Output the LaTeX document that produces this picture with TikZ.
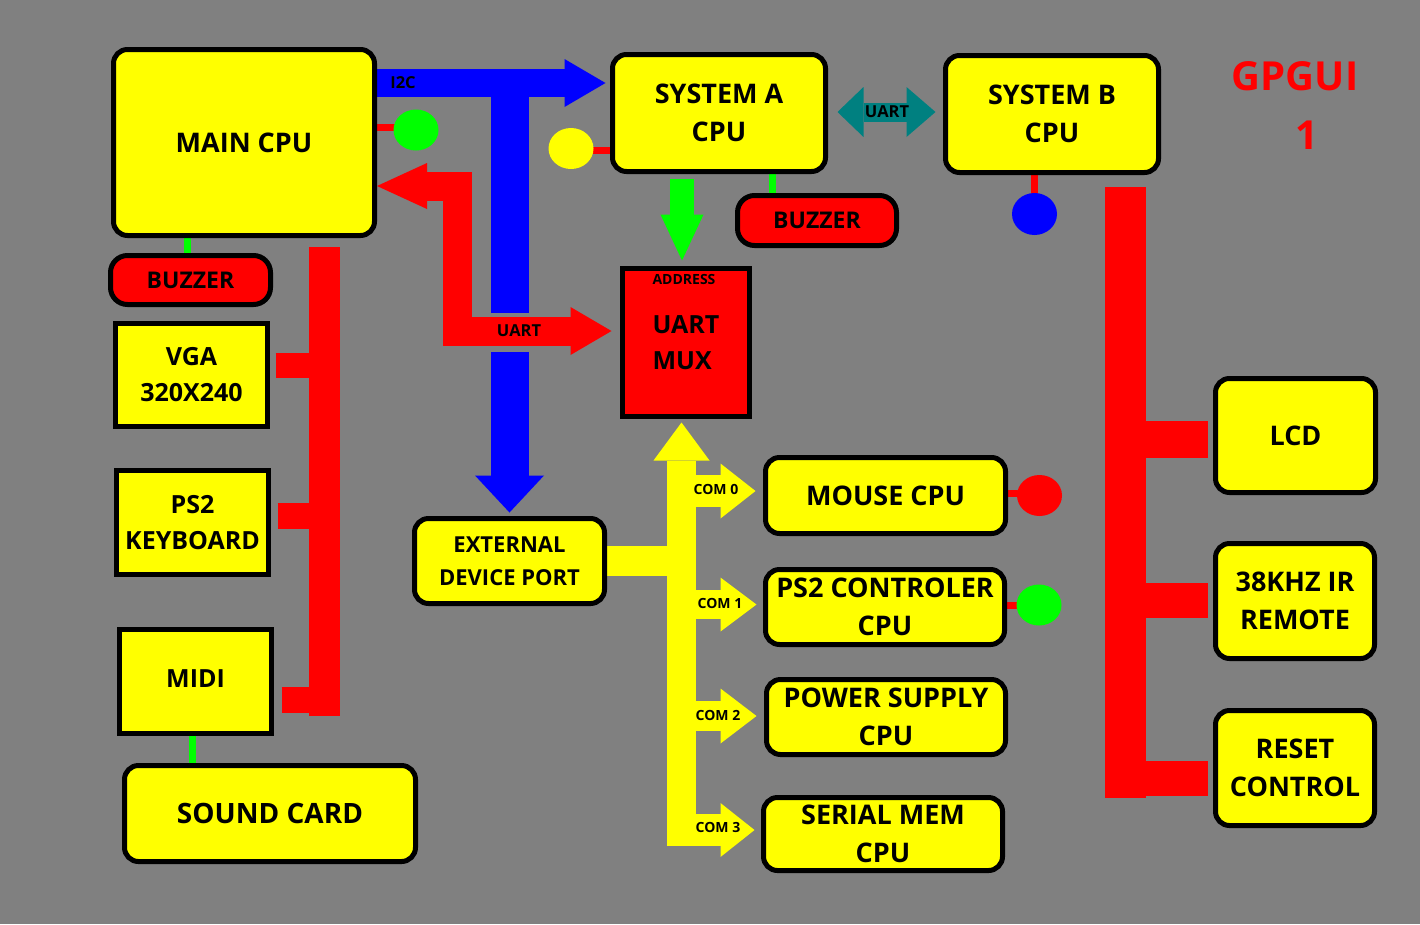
\documentclass[tikz,border=0pt]{standalone}
\usepackage{fontspec}
\setmainfont{Open Sans}
\usetikzlibrary{arrows.meta,shapes.geometric,calc}
\pgfdeclarelayer{back}
\pgfdeclarelayer{bg}
\pgfsetlayers{back,bg,main}
\definecolor{cgray}{HTML}{808080}
\definecolor{cyel}{HTML}{FFFF00}
\definecolor{cred}{HTML}{FF0000}
\definecolor{cblue}{HTML}{0000FF}
\definecolor{cgreen}{HTML}{00FF00}
\definecolor{cteal}{HTML}{008080}
\tikzset{
 ybox/.style={draw=black, line width=5pt, fill=cyel, rounded corners=14pt, inner sep=0pt, align=center, font=\fontsize{27}{38.5}\selectfont\bfseries},
 sbox/.style={ybox, sharp corners, font=\fontsize{25}{36}\selectfont\bfseries},
 rbox/.style={ybox, fill=cred, font=\fontsize{23}{30}\selectfont\bfseries, rounded corners=17pt},
 dot/.style={ellipse, draw=none, inner sep=0pt, minimum width=45pt, minimum height=41pt},
 stub/.style={line width=7pt, line cap=round},
 lbl/.style={font=\fontsize{16.5}{18}\selectfont\bfseries, inner sep=0pt},
 lbls/.style={font=\fontsize{14}{15}\selectfont\bfseries, inner sep=0pt},
 bus/.style={line cap=butt, line join=miter},
}
\begin{document}
\begin{tikzpicture}[x=1pt,y=-1pt]
\useasboundingbox (0,0) rectangle (1420,924);
\begin{pgfonlayer}{back}
\fill[cgray] (0,0) rectangle (1420,924);
\end{pgfonlayer}

% boxes
\node[ybox, minimum width=261pt, minimum height=186pt] (main) at (244,142.5) {MAIN CPU};
\node[ybox, minimum width=213pt, minimum height=117pt] (sysA) at (719,113) {SYSTEM A\\CPU};
\node[ybox, minimum width=213pt, minimum height=117pt] (sysB) at (1052,114) {SYSTEM B\\CPU};
\node[rbox, minimum width=159pt, minimum height=50pt] (buzA) at (817,220.5) {BUZZER};
\node[rbox, minimum width=160pt, minimum height=49pt] (buzM) at (190.5,280) {BUZZER};
\node[sbox, fill=cred, minimum width=127pt, minimum height=148pt, align=left] (mux) at (686,342.5) {UART\\MUX};
\node[sbox, minimum width=152pt, minimum height=103pt] (vga) at (191.5,375) {VGA\\320X240};
\node[sbox, minimum width=152pt, minimum height=104pt] (kbd) at (192.5,522.5) {PS2\\KEYBOARD};
\node[sbox, minimum width=152pt, minimum height=104pt] (midi) at (195.5,681.5) {\raisebox{5pt}{MIDI}};
\node[ybox, minimum width=291pt, minimum height=96pt, font=\fontsize{28}{38}\selectfont\bfseries] (sound) at (270,813.5) {SOUND CARD};
\node[ybox, minimum width=190pt, minimum height=85pt, font=\fontsize{22}{33}\selectfont\bfseries] (ext) at (509.5,561) {EXTERNAL\\DEVICE PORT};
\node[ybox, minimum width=240pt, minimum height=76pt] (mouse) at (885.5,495.5) {MOUSE CPU};
\node[ybox, minimum width=239pt, minimum height=75pt] (ps2c) at (885,607) {PS2 CONTROLER\\CPU};
\node[ybox, minimum width=239pt, minimum height=75pt] (psu) at (886,717) {POWER SUPPLY\\CPU};
\node[ybox, minimum width=239pt, minimum height=73pt] (smem) at (883,834) {SERIAL MEM\\CPU};
\node[ybox, minimum width=160pt, minimum height=114pt] (lcd) at (1295.5,435.5) {LCD};
\node[ybox, minimum width=159pt, minimum height=115pt] (ir) at (1295,601) {38KHZ IR\\REMOTE};
\node[ybox, minimum width=159pt, minimum height=115pt] (reset) at (1295,768) {RESET\\CONTROL};

% dots
\node[dot, fill=cgreen] (g1) at (416,130) {};
\node[dot, fill=cyel] (y1) at (571,148.5) {};
\node[dot, fill=cblue, minimum height=42pt] (b1) at (1034.5,214) {};
\node[dot, fill=cred] (r1) at (1039.5,495.5) {};
\node[dot, fill=cgreen] (g2) at (1039,605) {};

% title
\node[text=cred, font=\fontsize{40}{48}\selectfont\bfseries, inner sep=0pt] (title) at (1295,76) {GPGUI};
\node[text=cred, font=\fontsize{40}{48}\selectfont\bfseries, inner sep=0pt] (title1) at (1307,135) {1};

% helper coordinates
\coordinate (i2cT) at (508,83);
\coordinate (cutA) at (0,313);
\coordinate (cutB) at (0,352);
\coordinate (uartTop) at (457,186);
\coordinate (uartBot) at (457,331);
\coordinate (tealY) at (0,112);
\coordinate (gx) at ([xshift=-4pt]mux.north);
\coordinate (busBot) at (681.5,846);
\coordinate (c0) at (0,491);
\coordinate (c1) at (0,604.5);
\coordinate (c2) at (0,716);
\coordinate (c3) at (0,830);
\coordinate (lbTop) at (324.5,247);
\coordinate (lbBot) at (324.5,716);
\coordinate (lvga) at (0,365.5);
\coordinate (lkbd) at (0,516);
\coordinate (lmidi) at (0,700);
\coordinate (rbTop) at (1125.5,187);
\coordinate (rbBot) at (1125.5,798);
\coordinate (rlcd) at (0,439.5);
\coordinate (rir) at (0,600.5);
\coordinate (rreset) at (0,778.5);
\coordinate (s1) at (0,127);
\coordinate (s2) at (0,150);
\coordinate (s3) at (0,493);
\coordinate (gs1) at (187,0);
\coordinate (gs2) at (192,0);
\coordinate (gs3) at (772,0);

\begin{pgfonlayer}{bg}
% blue I2C
\draw[bus, cblue, line width=28pt, shorten >=4.5pt, -{Triangle[length=41pt,width=48pt,line width=0pt]}] (main.east |- i2cT) -- (sysA.west |- i2cT);
\draw[bus, cblue, line width=38pt] (ext.north |- i2cT) -- (ext.north |- cutA);
\draw[bus, cblue, line width=38pt, shorten >=3.5pt, -{Triangle[length=37pt,width=69pt,line width=0pt]}] (ext.north |- cutB) -- (ext.north);
% red UART
\draw[bus, cred, line width=29pt, shorten >=8.5pt, {Triangle[length=50pt,width=46pt,line width=0pt]}-{Triangle[length=41pt,width=48pt,line width=0pt]}] (main.east |- uartTop) -- (uartTop) -- (uartBot) -- (mux.west |- uartBot);
% green down
\draw[bus, cgreen, line width=24pt, shorten <=4.5pt, shorten >=5.5pt, -{Triangle[length=46pt,width=43pt,line width=0pt]}] (gx |- sysA.south) -- (gx);
% teal
\draw[bus, cteal, line width=19pt, shorten <=9.5pt, shorten >=7.5pt, {Triangle[length=26pt,width=50pt,line width=0pt]}-{Triangle[length=29pt,width=50pt,line width=0pt]}] (sysA.east |- tealY) -- (sysB.west |- tealY);
% yellow bus
\draw[bus, cyel, line width=29pt, shorten >=3.5pt, -{Triangle[length=38pt,width=56pt,line width=0pt]}] (busBot) -- (busBot |- mux.south);
\draw[bus, cyel, line width=32pt, shorten >=7.5pt, -{Triangle[length=35pt,width=55pt,line width=0pt]}] (busBot |- c0) -- (mouse.west |- c0);
\draw[bus, cyel, line width=29pt, shorten >=6.5pt, -{Triangle[length=36pt,width=54pt,line width=0pt]}] (busBot |- c1) -- (ps2c.west |- c1);
\draw[bus, cyel, line width=30pt, shorten >=7.5pt, -{Triangle[length=36pt,width=55pt,line width=0pt]}] (busBot |- c2) -- (psu.west |- c2);
\draw[bus, cyel, line width=32pt, shorten >=6.5pt, -{Triangle[length=34pt,width=54pt,line width=0pt]}] (busBot |- c3) -- (smem.west |- c3);
\draw[bus, cyel, line width=30pt] (ext.east) -- (busBot |- ext.east);
% left red bus
\draw[bus, cred, line width=31pt] (lbTop) -- (lbBot);
\draw[bus, cred, line width=25pt, shorten <=5.5pt] (vga.east |- lvga) -- (lbTop |- lvga);
\draw[bus, cred, line width=26pt, shorten <=6.5pt] (kbd.east |- lkbd) -- (lbTop |- lkbd);
\draw[bus, cred, line width=26pt, shorten <=7.5pt] (midi.east |- lmidi) -- (lbTop |- lmidi);
% right red bus
\draw[bus, cred, line width=41pt] (rbTop) -- (rbBot);
\draw[bus, cred, line width=37pt, shorten >=5.5pt] (rbTop |- rlcd) -- (lcd.west |- rlcd);
\draw[bus, cred, line width=35pt, shorten >=5.5pt] (rbTop |- rir) -- (ir.west |- rir);
\draw[bus, cred, line width=35pt, shorten >=5.5pt] (rbTop |- rreset) -- (reset.west |- rreset);
% stubs
\draw[stub, cred] (main.east |- s1) -- (g1.west |- s1);
\draw[stub, cred] (y1.east |- s2) -- (sysA.west |- s2);
\draw[stub, cred] (b1.north) -- (b1.north |- sysB.south);
\draw[stub, cred] (mouse.east |- s3) -- (r1.west |- s3);
\draw[stub, cred] (ps2c.east |- g2) -- (g2.west);
\draw[stub, cgreen] (gs1 |- main.south) -- (gs1 |- buzM.north);
\draw[stub, cgreen] (gs2 |- midi.south) -- (gs2 |- sound.north);
\draw[stub, cgreen] (gs3 |- sysA.south) -- (gs3 |- buzA.north);
\end{pgfonlayer}

% connector labels
\node[lbl] (li2c) at (403,83) {I2C};
\node[lbl] (luartR) at (519,331) {UART};
\node[lbl] (luartT) at (887,112) {UART};
\node[lbls] (laddr) at (684,279) {ADDRESS};
\node[lbls] (lc0) at (716,489) {COM 0};
\node[lbls] (lc1) at (720,603) {COM 1};
\node[lbls] (lc2) at (718,715) {COM 2};
\node[lbls] (lc3) at (718,827) {COM 3};
\end{tikzpicture}
\end{document}
